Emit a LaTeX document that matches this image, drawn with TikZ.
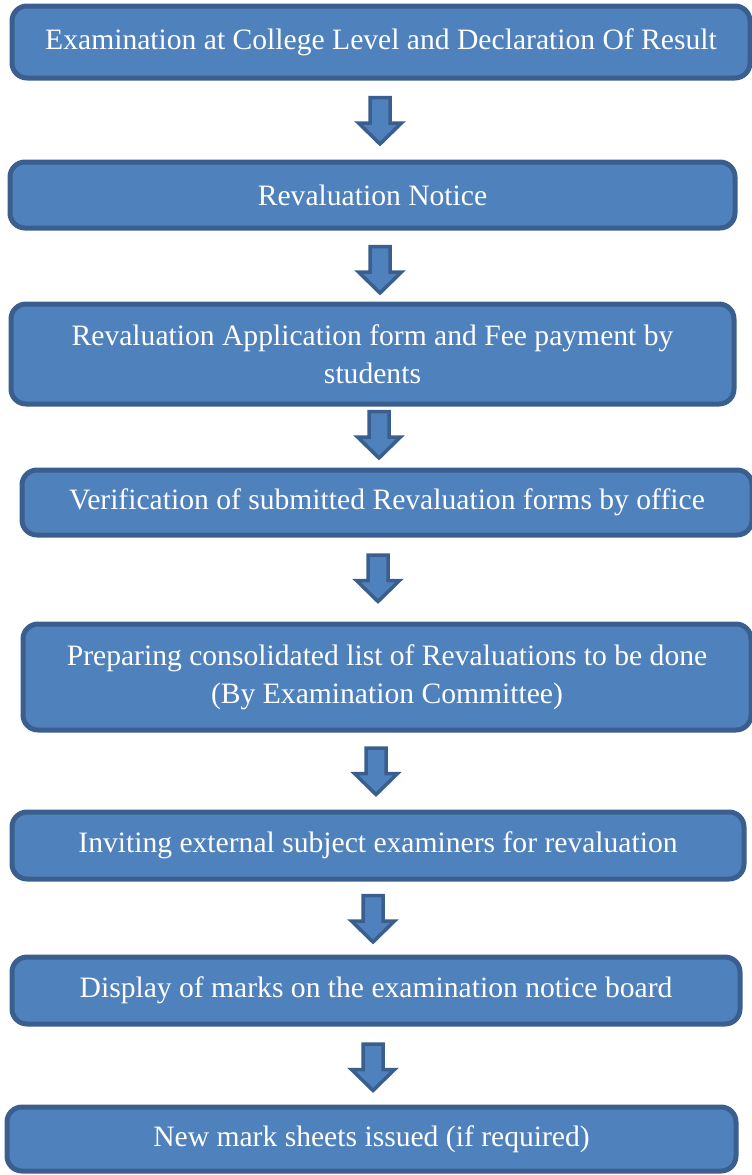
\documentclass[tikz,border=0pt]{standalone}
\usepackage{fontspec}
\setmainfont{Liberation Serif}
\definecolor{boxfill}{HTML}{4F81BD}
\definecolor{boxline}{HTML}{3A5F8E}
\tikzset{
  stepbox/.style={draw=boxline, fill=boxfill, line width=5pt, rounded corners=15pt,
    text=white, align=center, inner sep=0pt, font=\fontsize{29.6}{38}\selectfont},
  arrowpt/.style={coordinate},
  blockarrow/.pic={\draw[draw=boxline, fill=boxfill, line width=3.5pt, line join=miter]
    (-10,-24) -- (10,-24) -- (10,1.5) -- (21.5,1.5) -- (0,22.5) -- (-21.5,1.5) -- (-10,1.5) -- cycle;}
}
\begin{document}
\begin{tikzpicture}[x=1pt,y=-1pt]
\useasboundingbox (0,0) rectangle (752,1175);
\node[stepbox, minimum width=738pt, minimum height=72pt] (b1) at (381,42) {Examination at College Level and Declaration Of Result};
\node[stepbox, minimum width=725pt, minimum height=66pt] (b2) at (372.5,195) {Revaluation Notice};
\node[stepbox, minimum width=723pt, minimum height=100pt] (b3) at (372.5,354) {Revaluation Application form and Fee payment by\\students};
\node[stepbox, minimum width=730pt, minimum height=65pt] (b4) at (387,502.5) {Verification of submitted Revaluation forms by office};
\node[stepbox, minimum width=728pt, minimum height=106pt] (b5) at (387,677) {Preparing consolidated list of Revaluations to be done\\(By Examination Committee)};
\node[stepbox, minimum width=732pt, minimum height=67pt] (b6) at (378,845.5) {Inviting external subject examiners for revaluation};
\node[stepbox, minimum width=728pt, minimum height=67pt] (b7) at (376,990.5) {Display of marks on the examination notice board};
\node[stepbox, minimum width=729pt, minimum height=64pt] (b8) at (371.5,1139) {New mark sheets issued (if required)};
\node[arrowpt] (a1) at (380,121.5) {};
\node[arrowpt] (a2) at (380,270.5) {};
\node[arrowpt] (a3) at (379,435.5) {};
\node[arrowpt] (a4) at (378,579) {};
\node[arrowpt] (a5) at (376,772) {};
\node[arrowpt] (a6) at (373,919.5) {};
\node[arrowpt] (a7) at (373,1068) {};
\foreach \a in {a1,a2,a3,a4,a5,a6,a7} \pic at (\a) {blockarrow};
\end{tikzpicture}
\end{document}
